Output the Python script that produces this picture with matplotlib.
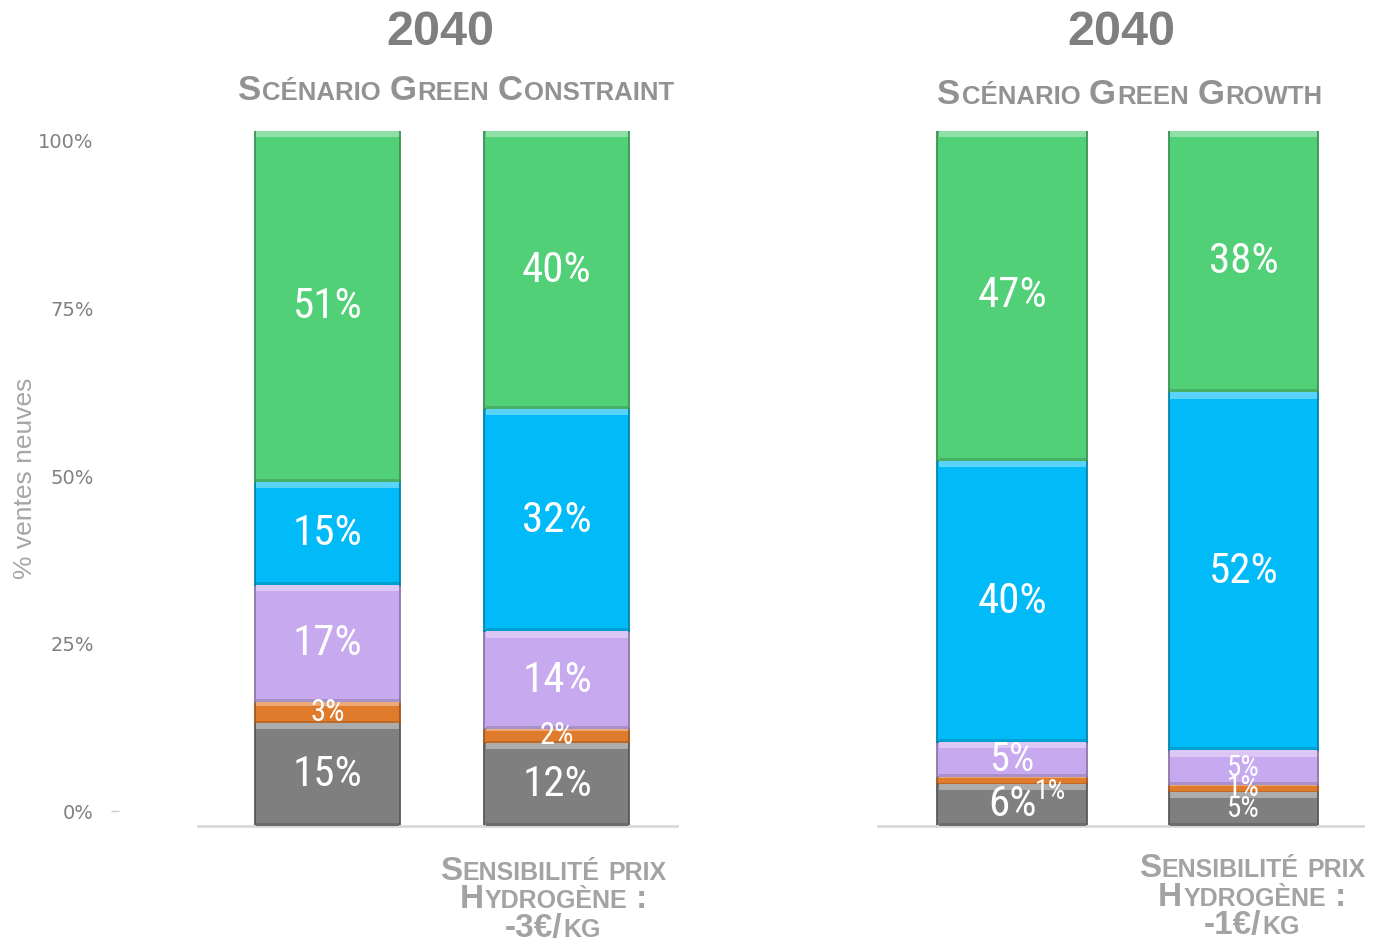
import matplotlib

matplotlib.use("Agg")
import matplotlib.pyplot as plt
import numpy as np
from matplotlib import font_manager
from matplotlib.colors import to_rgb
from matplotlib.transforms import IdentityTransform

W, H = 1379, 946

# ==================== Data ====================
segments = ["Thermique", "Hybride", "Hybride rechargeable", "Hydrogène", "Électrique"]
seg_colors = ["#7f7f7f", "#e07b2c", "#c6a9ef", "#00bbf7", "#52d077"]

constraint_base = [15, 3, 17, 15, 51]
constraint_h2 = [12, 2, 14, 32, 40]
growth_base = [6, 1, 5, 40, 47]
growth_h2 = [5, 1, 5, 52, 38]

panel_year = ["2040", "2040"]
panel_titles = ["Scénario Green Constraint", "Scénario Green Growth"]
sens_labels = [["Sensibilité prix", "Hydrogène :", "-3€/kg"],
               ["Sensibilité prix", "Hydrogène :", "-1€/kg"]]
ytick_vals = [0, 25, 50, 75, 100]
ytick_labels = ["0%", "25%", "50%", "75%", "100%"]

# label font sizes (pt) and manual offsets (points), per bar / segment
label_sizes = [
    [[31, 22, 31, 31, 31], [31, 22, 31, 31, 31]],
    [[31, 20, 29, 31, 31], [21, 21, 21, 31, 31]],
]
label_offsets = [
    [[(0, 0)] * 5, [(0, 0)] * 5],
    [[(0, 0), (28, -8), (0, 0), (0, 0), (0, 0)], [(0, 0)] * 5],
]

panels = [[constraint_base, constraint_h2], [growth_base, growth_h2]]

installed = {f.name for f in font_manager.fontManager.ttflist}
label_font = next((n for n in ["Liberation Sans Narrow", "Roboto Condensed", "Roboto"]
                   if n in installed), "DejaVu Sans")


def mix(c, other, f):
    c = np.array(to_rgb(c))
    return tuple(c * (1 - f) + np.array(other) * f)


def small_caps(fig, cx, y_img, text, big, small, color, weight="bold", gap=1.0):
    """Draw text in small caps, centred on cx (image px), baseline at y_img."""
    renderer = fig.canvas.get_renderer()
    items = []
    x = 0.0
    for wi, word in enumerate(text.split(" ")):
        if wi > 0:
            x += small * 100 / 72 * 0.34
        runs = []
        for ch in word:
            size = small if ch.islower() else big
            if runs and runs[-1][1] == size:
                runs[-1][0] += ch.upper()
            else:
                runs.append([ch.upper(), size])
        for ri, (s, size) in enumerate(runs):
            if ri > 0:
                x += gap
            t = fig.text(0, 0, s, fontsize=size, color=color, family="Liberation Sans",
                         fontweight=weight, transform=IdentityTransform(),
                         ha="left", va="baseline")
            items.append((t, x))
            x += t.get_window_extent(renderer=renderer).width
    x0 = cx - x / 2
    for t, off in items:
        t.set_position((x0 + off, H - y_img))


fig = plt.figure(figsize=(W / 100, H / 100), dpi=100)

# axes geometry in image pixels: (left, right)
ax_px = [(198, 677), (878, 1363)]
xlims = [(-0.564, 1.523), (-0.579, 1.516)]
bar_width = [0.632, 0.645]
title_cx = [440, 1121]
sub_cx = [456, 1130]
sub_base = [100, 104]
sens_cx = [553, 1252]
sens_base = [[880, 908, 937], [877, 906, 934]]

for p, bars in enumerate(panels):
    l, r = ax_px[p]
    ax = fig.add_axes([l / W, (H - 826) / H, (r - l) / W, 695 / H])
    for b, vals in enumerate(bars):
        total = sum(vals)
        heights = [v / total * 100 for v in vals]
        bottom = 0.0
        for s, (v, h) in enumerate(zip(vals, heights)):
            c = seg_colors[s]
            ax.bar(b, h, bottom=bottom, width=bar_width[p], color=c,
                   edgecolor=mix(c, (0, 0, 0), 0.3), linewidth=1.3, zorder=2)
            band = min(0.9, h * 0.2)
            ax.bar(b, band, bottom=bottom + h - band, width=bar_width[p] * 0.985,
                   color=mix(c, (1, 1, 1), 0.35), linewidth=0, zorder=3)
            ax.bar(b, band * 0.5, bottom=bottom, width=bar_width[p] * 0.985,
                   color=mix(c, (0, 0, 0), 0.15), linewidth=0, zorder=3)
            ax.annotate(f"{v}%", (b, bottom + h / 2), xytext=label_offsets[p][b][s],
                        textcoords="offset points", ha="center", va="center",
                        fontsize=label_sizes[p][b][s], color="white",
                        family=[label_font, "DejaVu Sans"], zorder=5)
            bottom += h
    ax.set_xlim(*xlims[p])
    ax.set_ylim(0, 100)
    ax.set_xticks([])
    ax.set_yticks([])
    for side in ["top", "right", "left"]:
        ax.spines[side].set_visible(False)
    ax.spines["bottom"].set_color("#d9d9d9")
    ax.spines["bottom"].set_linewidth(2)

    fig.text(title_cx[p], H - 45, panel_year[p], transform=IdentityTransform(),
             ha="center", va="baseline", fontsize=35, fontweight="bold",
             color="#7f7f7f", family="Liberation Sans")
    small_caps(fig, sub_cx[p], sub_base[p], panel_titles[p], 25, 18.5, "#929292")
    for line, yb in zip(sens_labels[p], sens_base[p]):
        small_caps(fig, sens_cx[p], yb, line, 24, 18, "#a3a3a3")

# value axis (its scale sits slightly inside the bar range, as in the source)
tax = fig.add_axes([198 / W, (H - 811) / H, 0.001, 670 / H])
tax.set_ylim(0, 100)
tax.set_xticks([])
tax.set_yticks(ytick_vals, ytick_labels, fontsize=14, color="#808080")
tax.tick_params(axis="y", length=0, pad=75)
tax.patch.set_visible(False)
for side in tax.spines:
    tax.spines[side].set_visible(False)
tax.plot([-60], [0], marker="_", markersize=6, color="#cccccc", clip_on=False,
         transform=tax.get_yaxis_transform())

fig.text(25, H - 478, "% ventes neuves", transform=IdentityTransform(), rotation=90,
         ha="center", va="center", fontsize=19, color="#a6a6a6", family="Liberation Sans")

fig.savefig("out.png", dpi=100)
